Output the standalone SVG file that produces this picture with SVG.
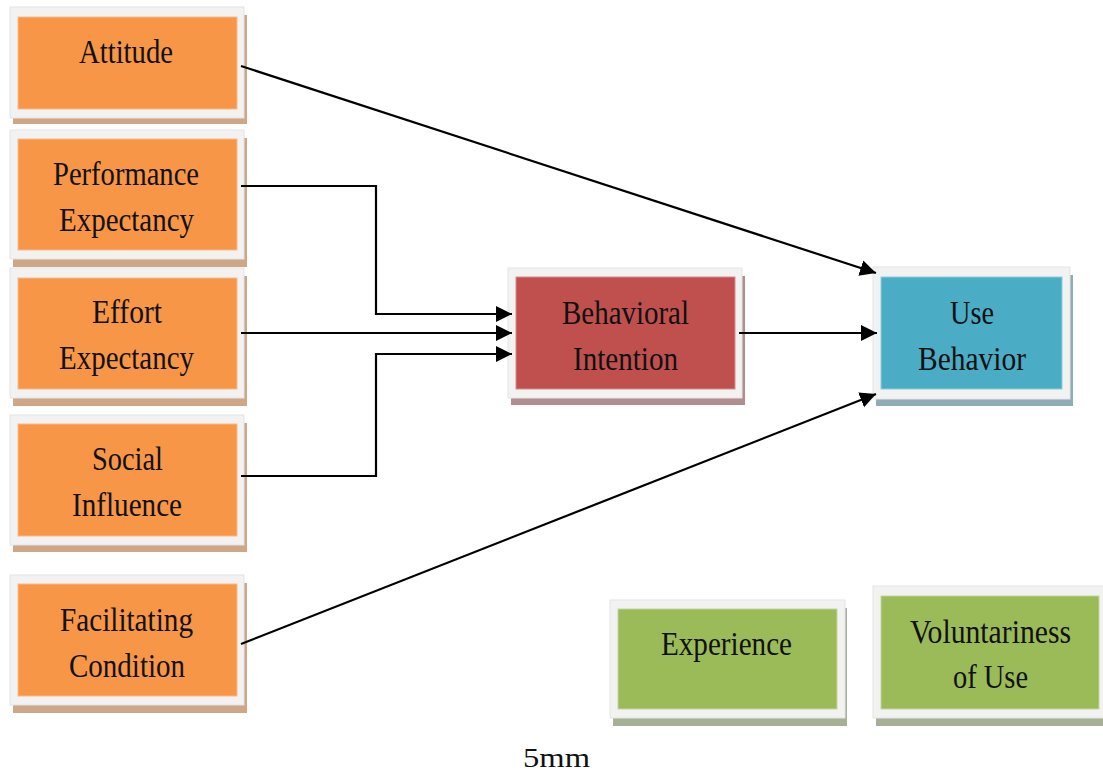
<svg xmlns="http://www.w3.org/2000/svg" width="1103" height="773" viewBox="0 0 1103 773">
<style>
.frame{fill:#F2F2F2;stroke:#E4E4E4;stroke-width:1}
.sh-o{fill:#CFA786}
.sh-r{fill:#B38D8D}
.sh-b{fill:#8FABB4}
.sh-g{fill:#A6B094}
.in-o{fill:#F79646;stroke:#F8B98C;stroke-width:1}
.in-r{fill:#C0504D;stroke:#D68C8A;stroke-width:1}
.in-b{fill:#4BACC6;stroke:#8ECDDC;stroke-width:1}
.in-g{fill:#9BBB59;stroke:#C2D69B;stroke-width:1}
text{font-family:"Liberation Serif","Times New Roman",serif;font-size:34px;fill:#111;text-anchor:middle}
.conn{fill:none;stroke:#000;stroke-width:2.2}
</style>
<defs>
<marker id="arrow" markerUnits="userSpaceOnUse" markerWidth="18" markerHeight="18" refX="16" refY="8" orient="auto">
<path d="M0,0 L16,8 L0,16 z" fill="#000"/>
</marker>
</defs>
<rect width="1103" height="773" fill="#FFFFFF"/>

<g id="node-attitude">
<rect class="sh-o" x="13" y="15" width="234" height="109"/>
<rect class="frame" x="10" y="7" width="234" height="111"/>
<rect class="in-o" x="18" y="17" width="219" height="92"/>
<text x="126" y="63" textLength="94" lengthAdjust="spacingAndGlyphs">Attitude</text>
</g>

<g id="node-performance">
<rect class="sh-o" x="13" y="138" width="234" height="129"/>
<rect class="frame" x="10" y="130" width="234" height="129"/>
<rect class="in-o" x="18" y="139" width="219" height="111"/>
<text x="126" y="185" textLength="146" lengthAdjust="spacingAndGlyphs">Performance</text>
<text x="126.5" y="231" textLength="135" lengthAdjust="spacingAndGlyphs">Expectancy</text>
</g>

<g id="node-effort">
<rect class="sh-o" x="13" y="276" width="234" height="130"/>
<rect class="frame" x="10" y="268" width="234" height="130"/>
<rect class="in-o" x="18" y="278" width="219" height="111"/>
<text x="127" y="323" textLength="70" lengthAdjust="spacingAndGlyphs">Effort</text>
<text x="126.5" y="369" textLength="135" lengthAdjust="spacingAndGlyphs">Expectancy</text>
</g>

<g id="node-social">
<rect class="sh-o" x="13" y="423" width="234" height="129"/>
<rect class="frame" x="10" y="415" width="234" height="130"/>
<rect class="in-o" x="18" y="424" width="219" height="112"/>
<text x="127.5" y="470" textLength="71" lengthAdjust="spacingAndGlyphs">Social</text>
<text x="127" y="516" textLength="110" lengthAdjust="spacingAndGlyphs">Influence</text>
</g>

<g id="node-facilitating">
<rect class="sh-o" x="13" y="583" width="234" height="130"/>
<rect class="frame" x="10" y="575" width="234" height="130"/>
<rect class="in-o" x="18" y="584" width="219" height="112"/>
<text x="126.5" y="631" textLength="133" lengthAdjust="spacingAndGlyphs">Facilitating</text>
<text x="127" y="677" textLength="116" lengthAdjust="spacingAndGlyphs">Condition</text>
</g>

<g id="node-behavioral-intention">
<rect class="sh-r" x="511" y="276" width="234" height="129"/>
<rect class="frame" x="508" y="268" width="234" height="130"/>
<rect class="in-r" x="516" y="277" width="219" height="112"/>
<text x="625.5" y="324" textLength="127" lengthAdjust="spacingAndGlyphs">Behavioral</text>
<text x="625.5" y="370" textLength="105" lengthAdjust="spacingAndGlyphs">Intention</text>
</g>

<g id="node-use-behavior">
<rect class="sh-b" x="876" y="275" width="197" height="131"/>
<rect class="frame" x="873" y="267" width="197" height="132"/>
<rect class="in-b" x="881" y="277" width="181" height="112"/>
<text x="972" y="324" textLength="44" lengthAdjust="spacingAndGlyphs">Use</text>
<text x="972" y="370" textLength="108" lengthAdjust="spacingAndGlyphs">Behavior</text>
</g>

<g id="node-experience">
<rect class="sh-g" x="613" y="608" width="234" height="118"/>
<rect class="frame" x="610" y="600" width="235" height="118"/>
<rect class="in-g" x="618" y="609" width="219" height="100"/>
<text x="726.5" y="655" textLength="131" lengthAdjust="spacingAndGlyphs">Experience</text>
</g>

<g id="node-voluntariness">
<rect class="sh-g" x="876" y="594" width="234" height="132"/>
<rect class="frame" x="873" y="586" width="234" height="132"/>
<rect class="in-g" x="881" y="596" width="218" height="113"/>
<text x="990.5" y="643" textLength="161" lengthAdjust="spacingAndGlyphs">Voluntariness</text>
<text x="990.5" y="688" textLength="75" lengthAdjust="spacingAndGlyphs">of Use</text>
</g>

<g id="connectors">
<path class="conn" d="M241,66 L876,273" marker-end="url(#arrow)"/>
<path class="conn" d="M241,186 H376 V314 H512" marker-end="url(#arrow)"/>
<path class="conn" d="M241,333 H512" marker-end="url(#arrow)"/>
<path class="conn" d="M241,476 H376 V354 H512" marker-end="url(#arrow)"/>
<path class="conn" d="M739,333 H877" marker-end="url(#arrow)"/>
<path class="conn" d="M241,644 L876,394" marker-end="url(#arrow)"/>
</g>

<text x="556.5" y="767" style="font-size:28px" textLength="67" lengthAdjust="spacingAndGlyphs">5mm</text>
</svg>
